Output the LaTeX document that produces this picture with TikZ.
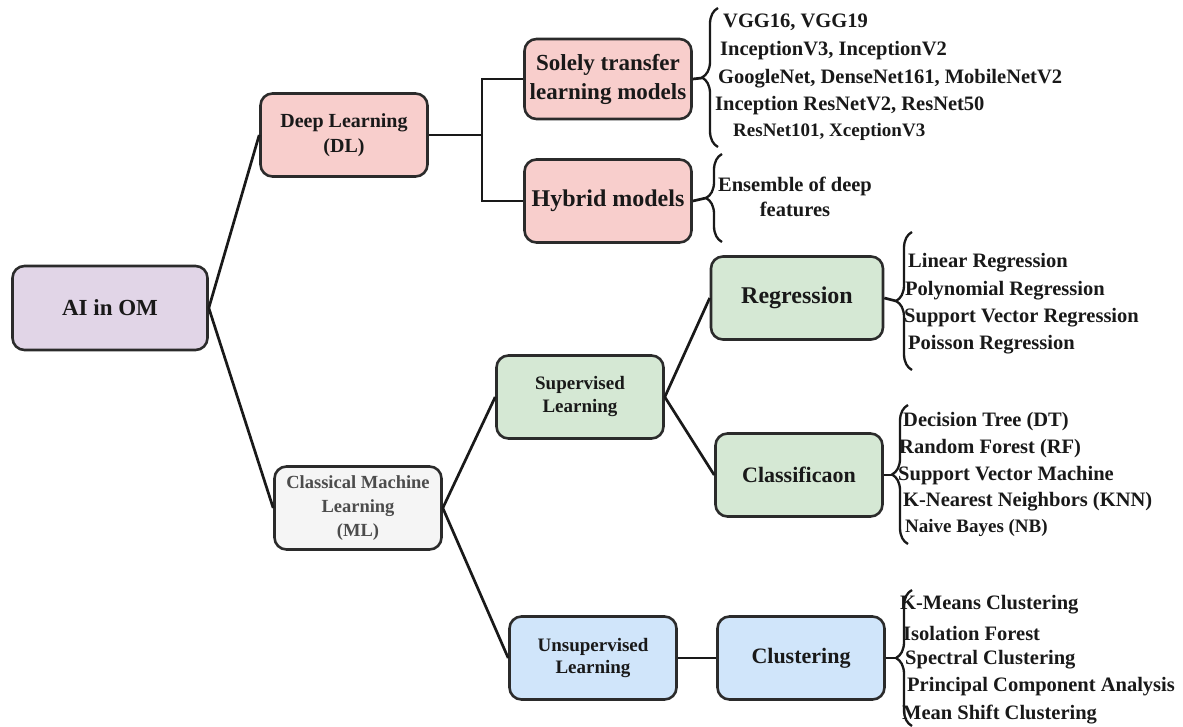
\documentclass[tikz,border=0pt]{standalone}
\usepackage{fontspec}
\setmainfont{Liberation Serif}
\usepackage{tikz}
\usetikzlibrary{decorations.pathreplacing}
\usepackage{xcolor}
\definecolor{boxline}{HTML}{2B2B2B}
\definecolor{aipurple}{HTML}{E1D5E7}
\definecolor{dlpink}{HTML}{F8CECC}
\definecolor{mlgray}{HTML}{F5F5F5}
\definecolor{supgreen}{HTML}{D5E8D4}
\definecolor{unsblue}{HTML}{D0E5FA}

\begin{document}
\begin{tikzpicture}[x=1pt, y=-1pt,
        box/.style={draw=boxline, line width=2.6pt, rounded corners=12pt, align=center,
            text=black!90, minimum width=167pt, minimum height=83pt, inner sep=2pt,
            font=\fontsize{20}{25}\selectfont\bfseries},
        link/.style={line width=2.7pt, black!90},
        curly/.style={decorate, decoration={brace, amplitude=16pt, aspect=0.5},
            line width=2.3pt, black!90},
        item/.style={anchor=west, inner sep=0pt, text=black!90,
            font=\fontsize{20.5}{24}\selectfont\bfseries}]
        \useasboundingbox (0,0) rectangle (1183,727);

        % Knoten
        \node[box, fill=aipurple, minimum width=195pt, minimum height=84pt,
            font=\fontsize{23}{28}\selectfont\bfseries] (ai) at (110,308) {AI in OM};
        \node[box, fill=dlpink] (dl) at (344,135) {Deep Learning\\(DL)};
        \node[box, fill=dlpink, minimum height=80pt,
            font=\fontsize{23}{29}\selectfont\bfseries] (solely) at (608,79) {Solely transfer\\learning models};
        \node[box, fill=dlpink, font=\fontsize{24}{29}\selectfont\bfseries] (hybrid) at (608,201) {Hybrid models};
        \node[box, fill=mlgray, text=black!70,
            font=\fontsize{18.5}{24}\selectfont\bfseries] (ml) at (358,508) {Classical Machine\\Learning\\(ML)};
        \node[box, fill=supgreen, font=\fontsize{19}{23}\selectfont\bfseries] (sup) at (580,397) {Supervised\\Learning};
        \node[box, fill=supgreen, minimum width=172pt,
            font=\fontsize{24}{29}\selectfont\bfseries] (reg) at (797,298) {Regression};
        \node[box, fill=supgreen, font=\fontsize{22}{27}\selectfont\bfseries] (cls) at (799,475) {Classificaon};
        \node[box, fill=unsblue, font=\fontsize{19}{22}\selectfont\bfseries] (unsup) at (593,658) {Unsupervised\\Learning};
        \node[box, fill=unsblue, font=\fontsize{22}{27}\selectfont\bfseries] (clu) at (801,658) {Clustering};

        % Verbindungen
        \draw[link] (ai.east) -- (dl.west);
        \draw[link] (ai.east) -- (ml.west);
        \coordinate (dlfork) at (482,135);
        \draw[link] (dl.east) -- (dlfork) |- (solely.west);
        \draw[link] (dlfork) |- (hybrid.west);
        \draw[link] (ml.east) -- (sup.west);
        \draw[link] (ml.east) -- (unsup.west);
        \draw[link] (sup.east) -- (reg.west);
        \draw[link] (sup.east) -- (cls.west);
        \draw[link] (unsup.east) -- (clu.west);

        % Klammern
        \draw[curly] (718,147) -- (718,8);
        \coordinate (soltip) at (702,78);
        \draw[link] (solely.east) -- (soltip);
        \draw[curly] (722,242) -- (722,154);
        \coordinate (hybtip) at (706,198);
        \draw[link] (hybrid.east) -- (hybtip);
        \draw[curly] (912,370) -- (912,232);
        \coordinate (regtip) at (896,301);
        \draw[link] (reg.east) -- (regtip);
        \draw[curly] (908,544) -- (908,405);
        \coordinate (clstip) at (892,475);
        \draw[link] (cls.east) -- (clstip);
        \draw[curly] (912,726) -- (912,590);
        \coordinate (clutip) at (896,658);
        \draw[link] (clu.east) -- (clutip);

        % Modelle
        \node[item] (vgg) at (723,22) {VGG16, VGG19};
        \node[item] (incep) at (720,51) {InceptionV3, InceptionV2};
        \node[item] (google) at (718,79) {GoogleNet, DenseNet161, MobileNetV2};
        \node[item] (incres) at (715,106) {Inception ResNetV2, ResNet50};
        \node[item, font=\fontsize{19}{22}\selectfont\bfseries] (resnet) at (733,132) {ResNet101, XceptionV3};
        \node[align=center, inner sep=0pt, text=black!90,
            font=\fontsize{20.5}{25}\selectfont\bfseries] (ens) at (795,197) {Ensemble of deep\\features};

        \node[item] (linreg) at (908,263) {Linear Regression};
        \node[item] (polyreg) at (905,291) {Polynomial Regression};
        \node[item] (svr) at (904,318) {Support Vector Regression};
        \node[item] (poisreg) at (908,345) {Poisson Regression};

        \node[item] (dt) at (903,422) {Decision Tree (DT)};
        \node[item] (rf) at (899,449) {Random Forest (RF)};
        \node[item] (svm) at (898,476) {Support Vector Machine};
        \node[item] (knn) at (903,502) {K-Nearest Neighbors (KNN)};
        \node[item, font=\fontsize{19}{23}\selectfont\bfseries] (nb) at (905,528) {Naive Bayes (NB)};

        \node[item] (kmeans) at (900,605) {K-Means Clustering};
        \node[item] (iso) at (903,633) {Isolation Forest};
        \node[item] (spec) at (905,660) {Spectral Clustering};
        \node[item] (pca) at (907,687) {Principal Component Analysis};
        \node[item] (meanshift) at (902,715) {Mean Shift Clustering};
    \end{tikzpicture}
\end{document}
